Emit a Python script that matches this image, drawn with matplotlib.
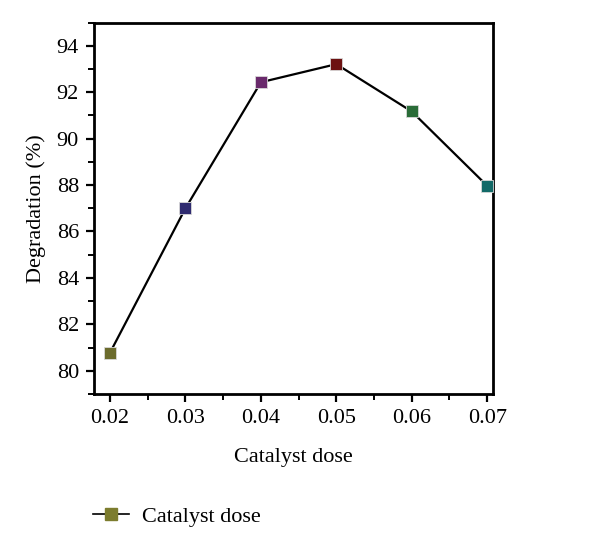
import matplotlib.pyplot as plt
from matplotlib.lines import Line2D
from matplotlib.ticker import MultipleLocator

plt.rcParams['font.family'] = ['Liberation Serif', 'DejaVu Serif']

dose = [0.02, 0.03, 0.04, 0.05, 0.06, 0.07]
degradation = [80.78, 87.0, 92.43, 93.21, 91.17, 87.97]
point_colors = ['#6b6b2c', '#2f2b70', '#6a2a6c', '#6c1212', '#2a6c38', '#126a68']
xtick_labels = ['0.02', '0.03', '0.04', '0.05', '0.06', '0.07']

fig = plt.figure(figsize=(6, 5.51), dpi=100)
ax = fig.add_axes([0.157, 0.285, 0.665, 0.674])

ax.plot(dose, degradation, color='black', linewidth=1.6, zorder=2)
for x, y, c in zip(dose, degradation, point_colors):
    ax.plot(x, y, marker='s', markersize=8.5, color=c, markeredgecolor='#d8d8d8',
            markeredgewidth=0.6, linestyle='none', zorder=3)

ax.set_xlim(0.0179, 0.0708)
ax.set_ylim(79, 95)
ax.set_xticks(dose)
ax.set_xticklabels(xtick_labels)
ax.set_yticks([80, 82, 84, 86, 88, 90, 92, 94])
ax.xaxis.set_minor_locator(MultipleLocator(0.005))
ax.yaxis.set_minor_locator(MultipleLocator(1))
ax.tick_params(which='major', direction='out', length=6, width=1.6, labelsize=16, pad=5)
ax.tick_params(which='minor', direction='out', length=4, width=1.4)
for s in ax.spines.values():
    s.set_linewidth(2)

ax.set_xlabel('Catalyst dose', fontsize=16, labelpad=14)
ax.set_ylabel('Degradation (%)', fontsize=16, labelpad=8)

handle = Line2D([], [], color='black', linewidth=1.2, marker='s', markersize=9,
                markerfacecolor='#7c7c2e', markeredgecolor='#7c7c2e')
fig.legend([handle], ['Catalyst dose'], loc='center left', bbox_to_anchor=(0.122, 0.063),
           frameon=False, fontsize=16, handlelength=1.6, handletextpad=0.6)

plt.savefig('out.png', dpi=100)
